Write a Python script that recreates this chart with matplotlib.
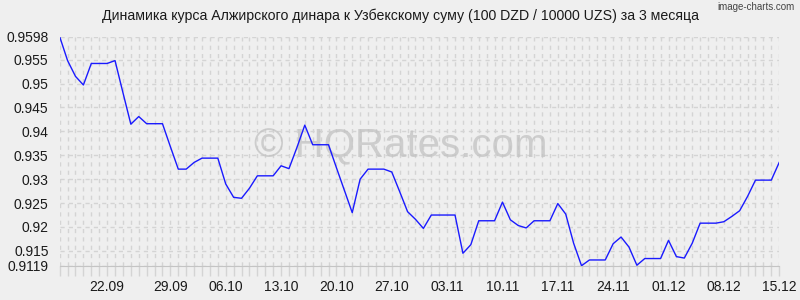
import matplotlib
matplotlib.use("Agg")
import matplotlib.pyplot as plt
from matplotlib.ticker import FixedLocator, MultipleLocator

plt.rcParams['font.family'] = ['Liberation Sans', 'DejaVu Sans']

# курс за 100 DZD / 10000 UZS, по дням (15.09 - 15.12)
rates = [
    0.9598, 0.9548, 0.9515, 0.9497, 0.9542, 0.9542, 0.9542, 0.9548, 0.9481, 0.9415,
    0.9431, 0.9416, 0.9416, 0.9416, 0.9368, 0.9321, 0.9321, 0.9335, 0.9344, 0.9344,
    0.9344, 0.9290, 0.9262, 0.9260, 0.9281, 0.9307, 0.9307, 0.9307, 0.9328, 0.9322,
    0.9366, 0.9413, 0.9372, 0.9372, 0.9372, 0.9324, 0.9277, 0.9230, 0.9300, 0.9321,
    0.9321, 0.9321, 0.9315, 0.9274, 0.9232, 0.9216, 0.9197, 0.9225, 0.9225, 0.9225,
    0.9225, 0.9145, 0.9163, 0.9213, 0.9213, 0.9213, 0.9252, 0.9215, 0.9203, 0.9198,
    0.9213, 0.9213, 0.9213, 0.9249, 0.9227, 0.9166, 0.9119, 0.9131, 0.9131, 0.9131,
    0.9165, 0.9179, 0.9158, 0.9120, 0.9134, 0.9134, 0.9134, 0.9172, 0.9138, 0.9135,
    0.9166, 0.9208, 0.9208, 0.9208, 0.9211, 0.9222, 0.9234, 0.9264, 0.9298, 0.9298,
    0.9298, 0.9335,
]
date_labels = ['22.09', '29.09', '06.10', '13.10', '20.10', '27.10', '03.11',
               '10.11', '17.11', '24.11', '01.12', '08.12', '15.12']
date_index = [6, 14, 21, 28, 35, 42, 49, 56, 63, 70, 77, 84, 91]
y_ticks = [0.9119, 0.915, 0.92, 0.925, 0.93, 0.935, 0.94, 0.945, 0.95, 0.955, 0.9598]
y_labels = ['0.9119', '0.915', '0.92', '0.925', '0.93', '0.935', '0.94',
            '0.945', '0.95', '0.955', '0.9598']

bg = '#efefef'
grid_c = '#d4d4d4'

fig = plt.figure(figsize=(8, 3), dpi=100, facecolor=bg)
ax = fig.add_axes([0.0746, 0.1143, 0.8994, 0.7634], facecolor=bg)

x = list(range(len(rates)))
ax.plot(x, rates, color='#1a1aff', lw=1.0, zorder=5)

ax.set_xlim(0, len(rates) - 1)
ax.set_ylim(y_ticks[0], y_ticks[-1])

ax.xaxis.set_major_locator(FixedLocator(date_index))
ax.set_xticklabels(date_labels, fontsize=10, color='#1a1a1a')
ax.xaxis.set_minor_locator(MultipleLocator(1))
ax.set_yticks(y_ticks)
ax.set_yticklabels(y_labels, fontsize=10, color='#1a1a1a')

ax.tick_params(axis='x', which='both', length=7, width=1, color=grid_c, pad=3)
ax.tick_params(axis='y', which='both', length=0, pad=8)

ax.grid(True, axis='x', which='both', color=grid_c, lw=1, ls=(0, (3, 3)), zorder=0)
ax.grid(True, axis='y', which='major', color=grid_c, lw=1, ls=(0, (3, 3)), zorder=0)
for s in ['top', 'right', 'left']:
    ax.spines[s].set_visible(False)
ax.spines['bottom'].set_color('#c4c4c4')

# водяной знак
ax.text(0.474, 0.52, '\u00a9 HQRates.com', transform=ax.transAxes, fontsize=29,
        color='#c2c2c2', alpha=0.75, ha='center', va='center', zorder=2)

fig.text(0.5, 0.948, 'Динамика курса Алжирского динара к Узбекскому суму '
         '(100 DZD / 10000 UZS) за 3 месяца', ha='center', va='center',
         fontsize=10.2, color='#1a1a1a')
fig.text(0.993, 0.975, 'image-charts.com', ha='right', va='center',
         fontsize=7, color='#444444')

fig.savefig('out.png', dpi=100, facecolor=bg)
